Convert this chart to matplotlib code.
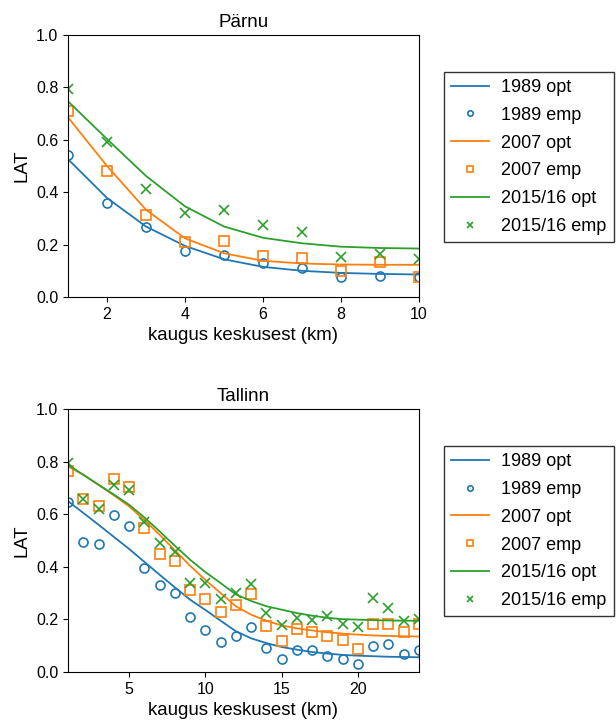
import numpy as np
import matplotlib
matplotlib.use('Agg')
import matplotlib.pyplot as plt

plt.rcParams['font.family'] = ['Liberation Sans', 'DejaVu Sans']

# Pärnu
parnu_km = list(range(1, 11))
parnu_1989_opt = [0.526, 0.378, 0.269, 0.195, 0.144, 0.115, 0.100, 0.092, 0.088, 0.086]
parnu_1989_emp = [0.541, 0.358, 0.268, 0.176, 0.159, 0.131, 0.110, 0.076, 0.082, 0.076]
parnu_2007_opt = [0.686, 0.500, 0.333, 0.224, 0.167, 0.138, 0.128, 0.124, 0.123, 0.123]
parnu_2007_emp = [0.709, 0.481, 0.314, 0.210, 0.212, 0.156, 0.147, 0.101, 0.132, 0.076]
parnu_2015_opt = [0.747, 0.603, 0.462, 0.346, 0.269, 0.226, 0.205, 0.192, 0.187, 0.185]
parnu_2015_emp = [0.795, 0.591, 0.412, 0.321, 0.332, 0.276, 0.249, 0.154, 0.164, 0.146]

# Tallinn
tallinn_km = list(range(1, 25))
tallinn_1989_opt = [0.650, 0.605, 0.560, 0.514, 0.468, 0.419, 0.370, 0.322, 0.275, 0.236,
                    0.195, 0.155, 0.128, 0.110, 0.095, 0.085, 0.076, 0.070, 0.065, 0.062,
                    0.060, 0.058, 0.057, 0.056]
tallinn_1989_emp = [0.647, 0.495, 0.487, 0.598, 0.554, 0.396, 0.329, 0.299, 0.208, 0.161,
                    0.115, 0.135, 0.171, 0.092, 0.050, 0.084, 0.082, 0.059, 0.051, 0.029,
                    0.100, 0.107, 0.070, 0.085]
tallinn_2007_opt = [0.782, 0.750, 0.712, 0.672, 0.630, 0.578, 0.522, 0.463, 0.404, 0.350,
                    0.300, 0.250, 0.218, 0.195, 0.177, 0.166, 0.158, 0.151, 0.146, 0.142,
                    0.139, 0.137, 0.136, 0.135]
tallinn_2007_emp = [0.766, 0.658, 0.632, 0.735, 0.704, 0.547, 0.449, 0.422, 0.311, 0.278,
                    0.227, 0.255, 0.296, 0.176, 0.117, 0.162, 0.152, 0.138, 0.120, 0.088,
                    0.182, 0.184, 0.151, 0.182]
tallinn_2015_opt = [0.788, 0.750, 0.712, 0.675, 0.636, 0.588, 0.535, 0.480, 0.427, 0.380,
                    0.338, 0.295, 0.270, 0.250, 0.237, 0.224, 0.214, 0.206, 0.201, 0.199,
                    0.197, 0.196, 0.195, 0.195]
tallinn_2015_emp = [0.795, 0.658, 0.618, 0.711, 0.693, 0.569, 0.489, 0.458, 0.337, 0.337,
                    0.278, 0.299, 0.333, 0.223, 0.180, 0.205, 0.199, 0.214, 0.182, 0.172,
                    0.282, 0.245, 0.193, 0.202]

years = ['1989', '2007', '2015/16']
colors = ['#1f77b4', '#ff7f0e', '#2ca02c']
markers = ['o', 's', 'x']


def draw_panel(ax, title, km, opts, emps, xlim):
    for year, color, marker, opt, emp in zip(years, colors, markers, opts, emps):
        ax.plot(km, opt, color=color, lw=1.3, label=f'{year} opt')
        if marker == 'x':
            ax.plot(km, emp, ls='none', marker=marker, color=color, ms=6.5,
                    mew=1.2, label=f'{year} emp')
        else:
            ax.plot(km, emp, ls='none', marker=marker, mfc='none', mec=color,
                    ms=6.5, mew=1.2, label=f'{year} emp')
    ax.set_xlim(*xlim)
    ax.set_ylim(0, 1.0)
    ax.set_yticks([0.0, 0.2, 0.4, 0.6, 0.8, 1.0])
    ax.set_title(title, fontsize=13.5)
    ax.set_xlabel('kaugus keskusest (km)', fontsize=13.4)
    ax.set_ylabel('LAT', fontsize=13.4)
    ax.tick_params(labelsize=11.5)
    leg = ax.legend(loc='upper left', bbox_to_anchor=(1.07, 0.86), borderaxespad=0,
                    fontsize=13, labelspacing=0.6, handlelength=2.1,
                    handletextpad=0.7, markerscale=0.6,
                    fancybox=False, framealpha=1, edgecolor='#333333')
    leg.get_frame().set_linewidth(1.0)


fig = plt.figure(figsize=(6.16, 7.22), dpi=100)
ax1 = fig.add_axes([68 / 616, 1 - 297 / 722, 351 / 616, 262 / 722])
ax2 = fig.add_axes([68 / 616, 1 - 672 / 722, 351 / 616, 263 / 722])

draw_panel(ax1, 'Pärnu', parnu_km,
           [parnu_1989_opt, parnu_2007_opt, parnu_2015_opt],
           [parnu_1989_emp, parnu_2007_emp, parnu_2015_emp], (1, 10))
draw_panel(ax2, 'Tallinn', tallinn_km,
           [tallinn_1989_opt, tallinn_2007_opt, tallinn_2015_opt],
           [tallinn_1989_emp, tallinn_2007_emp, tallinn_2015_emp], (1, 24))
ax2.set_xticks([5, 10, 15, 20])

fig.savefig('out.png', dpi=100)
